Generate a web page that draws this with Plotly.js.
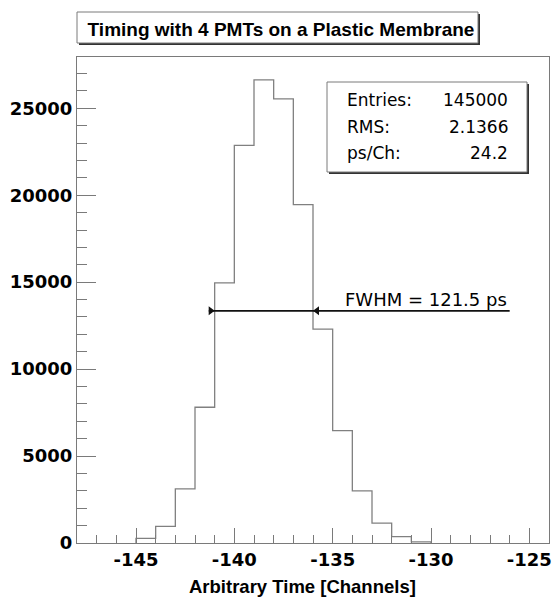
<!DOCTYPE html>
<html><head><meta charset="utf-8">
<script src="https://cdn.plot.ly/plotly-3.0.1.min.js"></script>
<style>html,body{margin:0;padding:0;background:#fff}#chart{width:552px;height:599px}</style>
</head><body><div id="chart"></div>
<script>
// ---- data ----
const binEdges = [-145, -144, -143, -142, -141, -140, -139, -138, -137, -136, -135, -134, -133, -132, -131, -130];
const counts   = [264, 953, 3117, 7807, 14960, 22865, 26636, 25545, 19460, 12300, 6464, 3002, 1148, 362, 60];
const xTickVals = [-145, -140, -135, -130, -125];
const yTickVals = [0, 5000, 10000, 15000, 20000, 25000];
const statLabels = ['Entries:', 'RMS:', 'ps/Ch:'];
const statValues = ['145000', '2.1366', '24.2'];
const fwhmEdges = [-141, -136];
const fwhmLevel = 13350;
const fwhmLine = [-141.3, -126];
const fwhmText = 'FWHM = 121.5 ps';
const titleText = 'Timing with 4 PMTs on a Plastic Membrane';
const xTitleText = 'Arbitrary Time [Channels]';

// ---- layout geometry (pixels) ----
const W = 552, H = 599;
const L = 77, R = 549, T = 57, B = 543;
const pxX = x => (x - L) / (R - L);
const pxY = y => (B - y) / (B - T);
const FONT = 'Liberation Sans, Arial, sans-serif';
const DFONT = 'DejaVu Sans, sans-serif';
const GRAY = '#7a7a7a';

// histogram outline (ROOT style, no internal verticals)
const hx = [binEdges[0]].concat(binEdges);
const hy = [0].concat(counts, [0]);

const traces = [
  {type: 'scatter', mode: 'lines', x: hx, y: hy, line: {shape: 'hv', color: '#808080', width: 1.3}, hoverinfo: 'skip', showlegend: false},
  {type: 'scatter', mode: 'lines', x: fwhmLine, y: [fwhmLevel, fwhmLevel], line: {color: '#111', width: 1.6}, hoverinfo: 'skip', showlegend: false}
];

const shapes = [
  // arrowheads
  {type: 'path', xref: 'x', yref: 'y', xsizemode: 'pixel', ysizemode: 'pixel', xanchor: fwhmEdges[0], yanchor: fwhmLevel,
   path: 'M0,0 L-6,4.5 L-6,-4.5 Z', fillcolor: '#111', line: {width: 0}},
  {type: 'path', xref: 'x', yref: 'y', xsizemode: 'pixel', ysizemode: 'pixel', xanchor: fwhmEdges[1], yanchor: fwhmLevel,
   path: 'M0,0 L6,4.5 L6,-4.5 Z', fillcolor: '#111', line: {width: 0}},
  // title box shadow + box
  {type: 'rect', xref: 'paper', yref: 'paper', x0: pxX(79), x1: pxX(480), y0: pxY(45), y1: pxY(14), fillcolor: '#333', line: {width: 0}},
  {type: 'rect', xref: 'paper', yref: 'paper', x0: pxX(77), x1: pxX(478), y0: pxY(43), y1: pxY(12), fillcolor: '#fff', line: {color: GRAY, width: 1}},
  // stats box shadow + box
  {type: 'rect', xref: 'paper', yref: 'paper', x0: pxX(329), x1: pxX(529), y0: pxY(174), y1: pxY(84), fillcolor: '#333', line: {width: 0}},
  {type: 'rect', xref: 'paper', yref: 'paper', x0: pxX(327), x1: pxX(527), y0: pxY(172), y1: pxY(82), fillcolor: '#fff', line: {color: GRAY, width: 1}}
];

const rowY = [100.5, 127, 153];
const annotations = [];
statLabels.forEach((s, i) => {
  annotations.push({xref: 'paper', yref: 'paper', x: pxX(345), y: pxY(rowY[i]), xanchor: 'left', yanchor: 'middle',
    text: s, showarrow: false, font: {family: DFONT, size: 17, color: '#000'}});
  annotations.push({xref: 'paper', yref: 'paper', x: pxX(510), y: pxY(rowY[i]), xanchor: 'right', yanchor: 'middle',
    text: statValues[i], showarrow: false, font: {family: DFONT, size: 17, color: '#000'}});
});
annotations.push({xref: 'x', yref: 'y', x: -134.5, y: fwhmLevel, xanchor: 'left', yanchor: 'middle', yshift: 11,
  text: fwhmText, showarrow: false, font: {family: DFONT, size: 18, color: '#000'}});
// x-axis title (placed as in the reference, slightly left of centre)
annotations.push({xref: 'paper', yref: 'paper', x: pxX(302.5), y: pxY(586.5), xanchor: 'center', yanchor: 'middle',
  text: xTitleText, showarrow: false, font: {family: FONT, size: 18.5, color: '#000', weight: 'bold'}});

const layout = {
  width: W, height: H,
  margin: {l: L, r: W - R, t: T, b: H - B},
  paper_bgcolor: '#fff', plot_bgcolor: '#fff',
  showlegend: false,
  title: {text: titleText, font: {family: FONT, size: 19, color: '#000', weight: 'bold'},
          xref: 'container', yref: 'container', x: 281 / W, xanchor: 'center', y: 1 - 29.5 / H, yanchor: 'middle'},
  xaxis: {
    range: [-148, -124], tickmode: 'array', tickvals: xTickVals, ticktext: xTickVals.map(String),
    ticks: 'inside', ticklen: 15, tickcolor: GRAY, tickwidth: 1,
    minor: {dtick: 1, tick0: -145, ticks: 'inside', ticklen: 8, tickcolor: GRAY, tickwidth: 1, showgrid: false},
    showline: true, linecolor: GRAY, linewidth: 1, mirror: true, showgrid: false, zeroline: false,
    tickfont: {family: DFONT, size: 18, color: '#000', weight: 'bold'}
  },
  yaxis: {
    range: [0, 27950], tickmode: 'array', tickvals: yTickVals, ticktext: yTickVals.map(String),
    ticks: 'inside', ticklen: 19, tickcolor: GRAY, tickwidth: 1,
    minor: {dtick: 1000, tick0: 0, ticks: 'inside', ticklen: 10, tickcolor: GRAY, tickwidth: 1, showgrid: false},
    showline: true, linecolor: GRAY, linewidth: 1, mirror: true, showgrid: false, zeroline: false,
    tickfont: {family: DFONT, size: 18, color: '#000', weight: 'bold'}
  },
  shapes: shapes,
  annotations: annotations
};

Plotly.newPlot('chart', traces, layout, {displayModeBar: false, staticPlot: true});
</script>
</body></html>
